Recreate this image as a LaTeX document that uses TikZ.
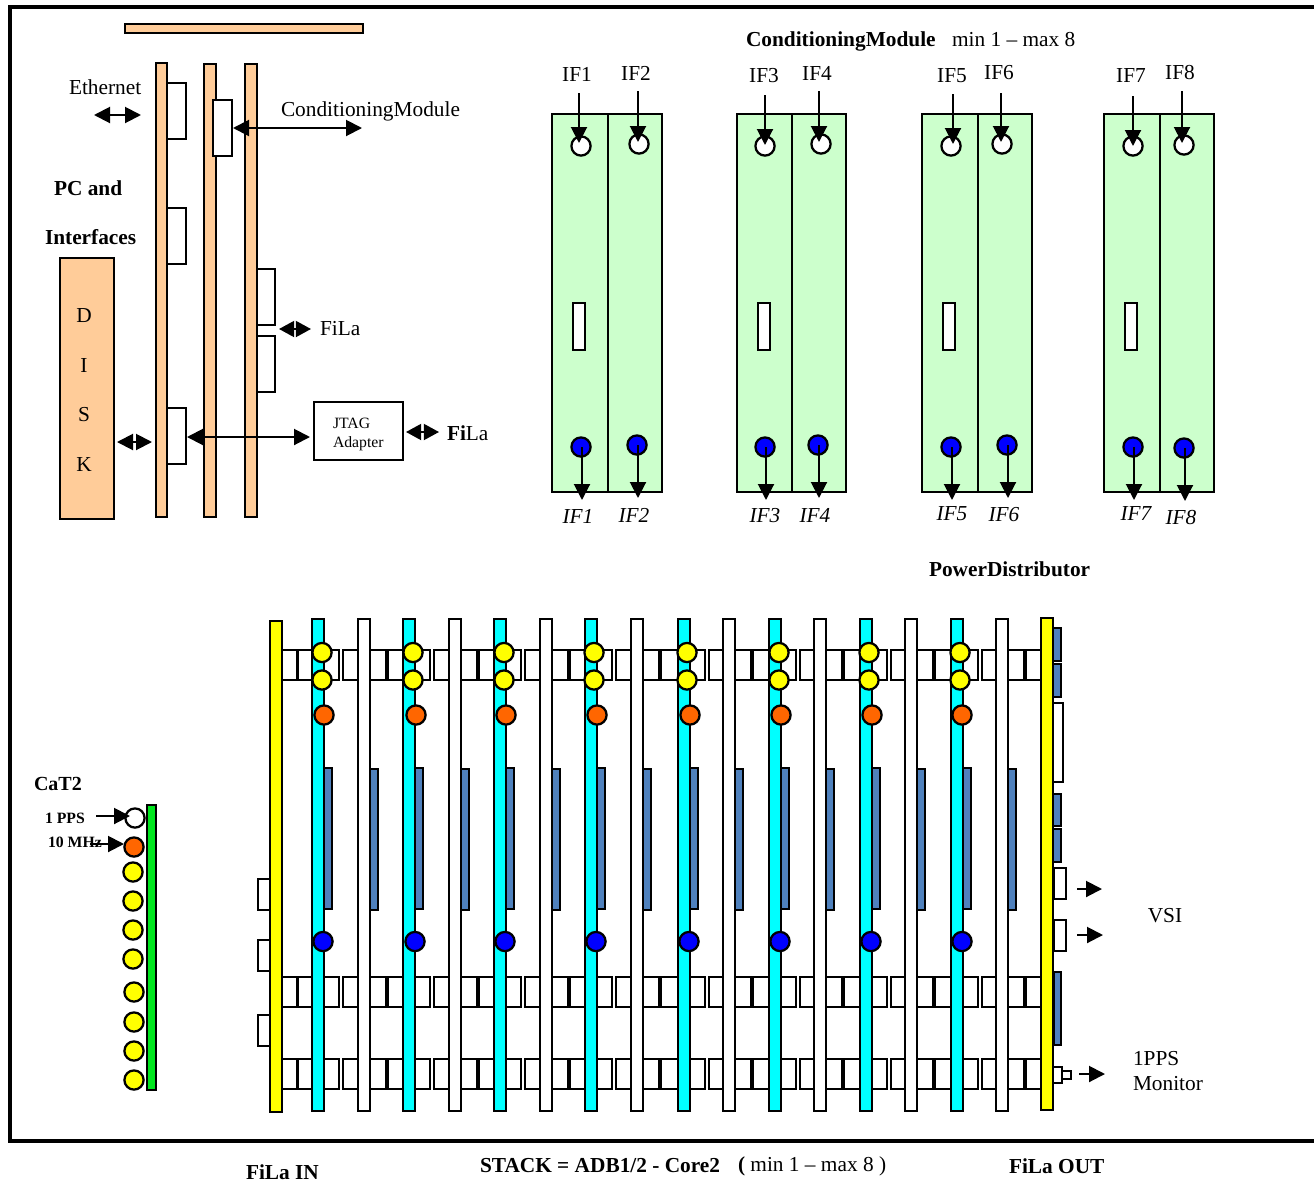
\documentclass[tikz,border=0pt]{standalone}
\usepackage{fontspec}
\setmainfont{Liberation Serif}
\usetikzlibrary{arrows.meta}
\definecolor{peach}{HTML}{FFCC99}
\definecolor{mint}{HTML}{CCFFCC}
\definecolor{steel}{HTML}{4F81BD}
\definecolor{orng}{HTML}{FF6600}
\definecolor{grn}{HTML}{00E61E}
\definecolor{cyn}{HTML}{00FFFF}
\definecolor{ylw}{HTML}{FFFF00}
\definecolor{blu}{HTML}{0000FF}
\newcommand{\bx}[6]{%
  \pgfmathsetmacro\bw{((#5)-(#3))*0.75}%
  \pgfmathsetmacro\bh{((#6)-(#4))*0.75}%
  \node[#1,minimum width=\bw pt,minimum height=\bh pt] (#2) at ({((#3)+(#5))/2},{((#4)+(#6))/2}) {};}
\newcommand{\cdisc}[4]{\node[#1] (#2) at (#3,#4) {};}
\tikzset{
  part/.style={draw=black,line width=1.7pt,inner sep=0pt,outer sep=0pt,rectangle},
  wbox/.style={part,fill=white},
  pbox/.style={part,fill=peach},
  cbar/.style={part,fill=cyn},
  ybar/.style={part,fill=ylw},
  sbar/.style={part,fill=steel},
  gbox/.style={part,fill=mint},
  gbar/.style={part,fill=grn},
  disc/.style={circle,draw=black,line width=1.7pt,inner sep=0pt,outer sep=0pt,minimum size=14.4pt},
  wdisc/.style={disc,fill=white},
  ydisc/.style={disc,fill=ylw},
  odisc/.style={disc,fill=orng},
  bdisc/.style={disc,fill=blu},
  arr/.style={line width=1.5pt,-{Triangle[length=12pt,width=12pt]}},
  darr/.style={line width=1.5pt,{Triangle[length=12pt,width=12pt]}-{Triangle[length=12pt,width=12pt]}},
  sdarr/.style={line width=1.5pt,{Triangle[length=11.4pt,width=12pt]}-{Triangle[length=11.4pt,width=12pt]}},
  txt/.style={inner sep=0pt,outer sep=0pt,anchor=west,font=\fontsize{16pt}{18pt}\selectfont},
  ctxt/.style={txt,anchor=center},
  itxt/.style={ctxt,font=\fontsize{16pt}{18pt}\selectfont\itshape},
  btxt/.style={txt,font=\fontsize{16pt}{18pt}\selectfont\bfseries},
  stxt/.style={txt,font=\fontsize{11.8pt}{14pt}\selectfont},
  sbtxt/.style={txt,font=\fontsize{11.8pt}{14pt}\selectfont\bfseries},
}
\begin{document}
\begin{tikzpicture}[x=0.75pt,y=-0.75pt]
\useasboundingbox (0,0) rectangle (1314,1182);
\draw[line width=2.4pt,black] (1320,7) -- (10,7) -- (10,1141) -- (1320,1141);

% ---- PC and interfaces
\bx{pbox}{topbar}{125}{24}{363}{33}
\bx{pbox}{disk}{60}{258}{114}{519}
\bx{wbox}{pa}{167}{83}{186}{139}
\bx{wbox}{pc}{167}{208}{186}{264}
\bx{wbox}{pf}{167}{408}{186}{464}
\bx{pbox}{b1}{156}{63}{167}{517}
\bx{pbox}{b2}{204}{64}{216}{517}
\bx{wbox}{pd}{256}{269}{275}{325}
\bx{wbox}{pe}{256}{336}{275}{392}
\bx{pbox}{b3}{245}{64}{257}{517}
\bx{wbox}{pb}{213}{100}{232}{156}
\bx{wbox}{jtag}{314}{402}{403}{460}

\node[txt] (teth) at (69,87) {Ethernet};
\node[txt] (tcm) at (281,111) {ConditioningModule};
\node[btxt] (tpc) at (54,188) {PC and};
\node[btxt] (tif) at (45,237) {Interfaces};
\node[ctxt] (d1) at (84,316) {D};
\node[ctxt] (d2) at (84,366) {I};
\node[ctxt] (d3) at (84,415) {S};
\node[ctxt] (d4) at (84,465) {K};
\node[txt] (tfila) at (320,329) {FiLa};
\node[stxt] (tj1) at (333,423) {JTAG};
\node[stxt] (tj2) at (333,444) {Adapter};
\node[txt] (tfilb) at (447,433) {\textbf{Fi}La};

\coordinate (e1) at (94,115); \coordinate (e2) at (141,115);
\coordinate (cm1) at (233,128); \coordinate (cm2) at (362,128);
\coordinate (fa1) at (279,329); \coordinate (fa2) at (311,329);
\coordinate (fb1) at (406,432); \coordinate (fb2) at (439,432);
\coordinate (dk1) at (117,442); \coordinate (dk2) at (152,442);
\coordinate (ja1) at (187,437); \coordinate (ja2) at (310,437);
\draw[darr] (e1) -- (e2);
\draw[darr] (cm1) -- (cm2);
\draw[sdarr] (fa1) -- (fa2);
\draw[sdarr] (fb1) -- (fb2);
\draw[darr] (dk1) -- (dk2);
\draw[darr] (ja1) -- (ja2);

% ---- Conditioning modules
\node[btxt] (tcm2) at (746,41.5) {ConditioningModule};
\node[txt] (tmm) at (952,40) {min 1 – max 8};
\foreach \m/\ml/\md/\mr/\ms in {1/552/608/662/573, 2/737/792/846/758, 3/922/978/1032/943, 4/1104/1160/1214/1125}{
  \bx{gbox}{ml\m}{\ml}{114}{\md}{492}
  \bx{gbox}{mr\m}{\md}{114}{\mr}{492}
  \bx{wbox}{ms\m}{\ms}{303}{\ms+12}{350}
}
\foreach \n/\wx/\wy/\bxx/\byy/\ax/\ay/\ty/\ox/\oy/\lx/\ly/\ux/\uy in {
  1/581/146/581/447/579/93/143/582/500/577/74/578/516,
  2/639/144/637/445/638/91/142/638/498/636/73/634/515,
  3/765/146/765/447/765/95/145/766/500/764/76/765/516,
  4/821/144/818/445/819/91/142/819/498/817/73/815/515,
  5/951/146/951/447/953/94/144/952/500/952/76/952/514,
  6/1002/144/1007/445/1001/93/142/1008/498/999/73/1004/515,
  7/1133/146/1133/447/1133/96/146/1134/500/1131/76/1136/514,
  8/1184/145/1184/448/1182/91/143/1185/501/1180/73/1181/518}{
  \cdisc{wdisc}{wi\n}{\wx}{\wy}
  \cdisc{bdisc}{bo\n}{\bxx}{\byy}
  \node[ctxt] (li\n) at (\lx,\ly) {IF\n};
  \node[itxt] (lo\n) at (\ux,\uy) {IF\n};
  \coordinate (ia\n) at (\ax,\ay);
  \coordinate (ib\n) at (\ax,\ty);
  \coordinate (oa\n) at (\ox,\oy);
  \draw[arr] (ia\n) -- (ib\n);
  \draw[arr] (oa\n |- bo\n.center) -- (oa\n);
}

\node[btxt] (tpd) at (929,569) {PowerDistributor};

% ---- Stack: small boxes
\foreach \rr/\yt/\yb in {1/650/680, 2/977/1007, 3/1059/1089}{
  \bx{wbox}{r\rr s1}{282}{\yt}{297}{\yb}
  \bx{wbox}{r\rr s2}{298}{\yt}{312}{\yb}
  \foreach \k/\cl/\wl/\nl in {1/312/358/403, 2/403/449/494, 3/494/540/585, 4/585/631/678, 5/678/723/769, 6/769/814/860, 7/860/905/951, 8/951/996/1041}{
    \bx{wbox}{r\rr a\k}{\cl+12}{\yt}{\cl+27}{\yb}
    \bx{wbox}{r\rr b\k}{\cl+31}{\yt}{\wl}{\yb}
    \bx{wbox}{r\rr c\k}{\wl+12}{\yt}{\wl+28}{\yb}
    \bx{wbox}{r\rr d\k}{\wl+30}{\yt}{\nl}{\yb}
  }
}
% ---- Stack: bars, strips, discs
\foreach \k/\cl/\wl/\yx/\ox/\bxx in {1/312/358/322/324/323, 2/403/449/413/416/415, 3/494/540/504/506/505, 4/585/631/594/597/596, 5/678/723/687/690/689, 6/769/814/779/781/780, 7/860/905/869/872/871, 8/951/996/960/962/962}{
  \bx{sbar}{sc\k}{\cl+12}{768}{\cl+20}{909}
  \bx{sbar}{sw\k}{\wl+12}{769}{\wl+20}{910}
  \bx{cbar}{cy\k}{\cl}{619}{\cl+12}{1111}
  \bx{wbox}{wh\k}{\wl}{619}{\wl+12}{1111}
  \cdisc{ydisc}{ya\k}{\yx}{652.5}
  \cdisc{ydisc}{yb\k}{\yx}{680}
  \cdisc{odisc}{or\k}{\ox}{715}
  \cdisc{bdisc}{bl\k}{\bxx}{941.5}
}
\bx{wbox}{la}{258}{879}{270}{910}
\bx{wbox}{lb}{258}{940}{270}{971}
\bx{wbox}{lc}{258}{1015}{270}{1046}
\bx{ybar}{yl}{270}{621}{282}{1112}
\bx{sbar}{ra}{1053}{628}{1061}{661}
\bx{sbar}{rb}{1053}{664}{1061}{697}
\bx{wbox}{rc}{1053}{703}{1063}{782}
\bx{sbar}{rd}{1053}{794}{1061}{826}
\bx{sbar}{re}{1053}{829}{1061}{862}
\bx{wbox}{rf}{1054}{868}{1066}{899}
\bx{wbox}{rg}{1054}{920}{1066}{951}
\bx{sbar}{rh}{1054}{972}{1061}{1045}
\bx{wbox}{ri}{1053}{1067}{1062}{1083}
\bx{wbox}{rj}{1062}{1071}{1071}{1079}
\bx{ybar}{yr}{1041}{618}{1053}{1110}

\coordinate (v1a) at (1077,889); \coordinate (v1b) at (1102,889);
\coordinate (v2a) at (1077,935); \coordinate (v2b) at (1103,935);
\coordinate (p1a) at (1079,1074); \coordinate (p1b) at (1105,1074);
\draw[arr] (v1a) -- (v1b);
\draw[arr] (v2a) -- (v2b);
\draw[arr] (p1a) -- (p1b);
\node[ctxt] (tvsi) at (1165,916) {VSI};
\node[txt] (tpp) at (1133,1059) {1PPS};
\node[txt] (tmon) at (1133,1084) {Monitor};

% ---- CaT2
\bx{gbar}{gr}{147}{805}{156}{1090}
\cdisc{wdisc}{cw}{135}{818}
\cdisc{odisc}{co}{134}{847}
\foreach \i/\xx/\yy in {1/133/872, 2/133/901, 3/133/930, 4/133/959, 5/134/992, 6/134/1022, 7/134/1051, 8/134/1080}{
  \cdisc{ydisc}{cy\i c}{\xx}{\yy}
}
\node[btxt,font=\fontsize{15pt}{18pt}\selectfont\bfseries] (tcat) at (34,784) {CaT2};
\node[sbtxt] (t1p) at (45,818) {1 PPS};
\node[sbtxt] (t10) at (48,842) {10 MHz};
\coordinate (c1a) at (96,816); \coordinate (c1b) at (130,816);
\coordinate (c2a) at (90,844); \coordinate (c2b) at (124,844);
\draw[arr] (c1a) -- (c1b);
\draw[arr] (c2a) -- (c2b);

% ---- Bottom captions
\node[btxt] (tfi) at (246,1172) {FiLa IN};
\node[btxt] (tst) at (480,1166) {STACK = ADB1/2 - Core2};
\node[txt] (tmm2) at (738,1166) {\textbf{(} min 1 – max 8 )};
\node[btxt] (tfo) at (1009,1166) {FiLa OUT};
\end{tikzpicture}
\end{document}
